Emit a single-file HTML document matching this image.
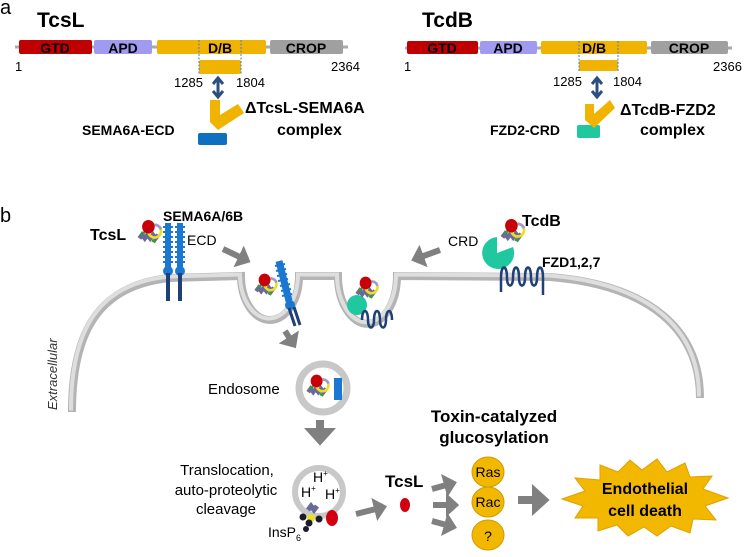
<!DOCTYPE html>
<html><head><meta charset="utf-8"><style>
html,body{margin:0;padding:0;background:#fff}
svg{display:block;font-family:"Liberation Sans",Arial,sans-serif}
.b{font-weight:bold}
</style></head><body>
<svg width="746" height="557" viewBox="0 0 746 557" xmlns="http://www.w3.org/2000/svg">
<defs>
<symbol id="tox" viewBox="-20 -20 40 40" width="40" height="40" overflow="visible">
  <path d="M-14,6 l3,-4 l3,4 l3,-4 l3,4 l3,-4 l3,4 l3,-4" stroke="#6a6a9a" stroke-width="5" fill="none"/>
  <path d="M-12,2 l4,-3 M0,8 l4,2" stroke="#3a9a3a" stroke-width="3"/>
  <circle cx="3" cy="-2" r="7" fill="none" stroke="#e8e020" stroke-width="3"/>
  <path d="M3,-9 a7,7 0 0 1 7,5" stroke="#9a9ad8" stroke-width="3" fill="none"/>
  <ellipse cx="-4" cy="-7" rx="7" ry="7.5" fill="#c8000a"/>
</symbol>
<marker id="ah" markerWidth="4" markerHeight="4" refX="1" refY="2" orient="auto" markerUnits="strokeWidth"><path d="M0,0 L2.2,2 L0,4z" fill="#808080"/></marker>
</defs>

<!-- panel a -->
<text x="0" y="14" font-size="20">a</text>
<text x="37" y="27" font-size="21" class="b">TcsL</text>
<line x1="15" y1="47" x2="348" y2="47" stroke="#aaa" stroke-width="3"/>
<rect x="19" y="40" width="73" height="14" rx="2" fill="#c00000"/>
<rect x="94" y="40" width="58" height="14" rx="2" fill="#a09af0"/>
<rect x="157" y="40" width="109" height="14" rx="2" fill="#f0b400"/>
<rect x="270" y="40" width="73" height="14" rx="2" fill="#a0a0a0"/>
<g font-size="14" class="b" text-anchor="middle"><text x="55" y="53">GTD</text><text x="123" y="53">APD</text><text x="220" y="53">D/B</text><text x="306" y="53">CROP</text></g>
<rect x="199" y="60" width="42" height="14" rx="2" fill="#f0b400"/>
<line x1="199" y1="40" x2="199" y2="74" stroke="#4a7ad0" stroke-dasharray="2,1.5"/>
<line x1="241" y1="40" x2="241" y2="74" stroke="#4a7ad0" stroke-dasharray="2,1.5"/>
<g font-size="13"><text x="15" y="71">1</text><text x="331" y="71">2364</text><text x="174" y="87">1285</text><text x="236" y="87">1804</text></g>
<path d="M218,80 L218,95 M213,84 L218,78 L223,84 M213,91 L218,97 L223,91" stroke="#2d4f80" stroke-width="3" fill="none"/>
<rect x="198" y="133" width="29" height="12" rx="2" fill="#1070c0"/>
<path d="M210,100 L220,100 L220,115 L238,104 L244,113 L218,130 L210,122 Z" fill="#f0b400"/>
<text x="245" y="113" font-size="16" class="b">ΔTcsL-SEMA6A</text>
<text x="277" y="135" font-size="16" class="b">complex</text>
<text x="82" y="135" font-size="14" class="b">SEMA6A-ECD</text>

<text x="422" y="27" font-size="21" class="b">TcdB</text>
<line x1="405" y1="48" x2="732" y2="48" stroke="#aaa" stroke-width="3"/>
<rect x="407" y="41" width="71" height="13" rx="2" fill="#c00000"/>
<rect x="480" y="41" width="57" height="13" rx="2" fill="#a09af0"/>
<rect x="541" y="41" width="106" height="13" rx="2" fill="#f0b400"/>
<rect x="651" y="41" width="77" height="13" rx="2" fill="#a0a0a0"/>
<g font-size="14" class="b" text-anchor="middle"><text x="442" y="53">GTD</text><text x="508" y="53">APD</text><text x="594" y="53">D/B</text><text x="689" y="53">CROP</text></g>
<rect x="579" y="60" width="39" height="11" rx="2" fill="#f0b400"/>
<line x1="579" y1="41" x2="579" y2="71" stroke="#4a7ad0" stroke-dasharray="2,1.5"/>
<line x1="618" y1="41" x2="618" y2="71" stroke="#4a7ad0" stroke-dasharray="2,1.5"/>
<g font-size="13"><text x="404" y="71">1</text><text x="713" y="71">2366</text><text x="553" y="86">1285</text><text x="613" y="86">1804</text></g>
<path d="M597,80 L597,95 M592,84 L597,78 L602,84 M592,91 L597,97 L602,91" stroke="#2d4f80" stroke-width="3" fill="none"/>
<rect x="577" y="125" width="23" height="13" rx="2" fill="#20c8a0"/>
<path d="M585,104 L594,104 L594,114 L610,100 L615,108 L594,128 L585,120 Z" fill="#f0b400"/>
<text x="620" y="115" font-size="16" class="b">ΔTcdB-FZD2</text>
<text x="640" y="135" font-size="16" class="b">complex</text>
<text x="490" y="135" font-size="14" class="b">FZD2-CRD</text>

<!-- panel b -->
<text x="0" y="222" font-size="20">b</text>
<path d="M72,412 C72,330 100,285 170,278 L241,276 A29,44 0 0 0 299,276 L338,276 A29,47 0 0 0 397,276 L550,277 C650,285 700,330 700,398" stroke="#b4b4b4" stroke-width="8" fill="none"/>
<path d="M72,412 C72,330 100,285 170,278 L241,276 A29,44 0 0 0 299,276 L338,276 A29,47 0 0 0 397,276 L550,277 C650,285 700,330 700,398" stroke="#dedede" stroke-width="4" fill="none" transform="translate(-1,-1.5)"/>
<text transform="translate(57,410) rotate(-90)" font-size="13" font-style="italic" fill="#333">Extracellular</text>

<!-- SEMA receptors -->
<g>
<rect x="165" y="223" width="6" height="45" fill="#1a78d0"/><rect x="177" y="223" width="6" height="45" fill="#1a78d0"/>
<path d="M163,227 h10 M163,232 h10 M163,237 h10 M163,242 h10 M163,247 h10 M163,252 h10 M163,257 h10 M163,262 h10 M175,227 h10 M175,232 h10 M175,237 h10 M175,242 h10 M175,247 h10 M175,252 h10 M175,257 h10 M175,262 h10" stroke="#1a78d0" stroke-width="2"/>
<circle cx="168" cy="271" r="5" fill="#1a78d0"/><circle cx="180" cy="271" r="5" fill="#1a78d0"/>
<rect x="166" y="273" width="4" height="28" fill="#1e3f78"/><rect x="178" y="273" width="4" height="28" fill="#1e3f78"/>
</g>
<use href="#tox" x="134" y="215" width="36" height="36"/>
<text x="90" y="240" font-size="16" class="b">TcsL</text>
<text x="163" y="221" font-size="14" class="b">SEMA6A/6B</text>
<text x="187" y="245" font-size="14">ECD</text>
<line x1="223" y1="249" x2="244" y2="259" stroke="#808080" stroke-width="6" marker-end="url(#ah)"/>

<!-- pit1 -->
<line x1="279" y1="261" x2="289" y2="301" stroke="#1a78d0" stroke-width="7"/>
<path d="M275,266 l10,-2 M276,271 l10,-2 M277,276 l10,-2 M278,281 l10,-2 M280,286 l10,-2 M281,291 l10,-2 M282,296 l10,-2" stroke="#1a78d0" stroke-width="2"/>
<circle cx="290" cy="305" r="5" fill="#1a78d0"/>
<path d="M289,308 L295,326 M294,307 L300,325" stroke="#1e3f78" stroke-width="3"/>
<use href="#tox" x="251" y="269" width="34" height="34"/>
<!-- pit2 -->
<circle cx="357" cy="305" r="10" fill="#20c8a0"/>
<use href="#tox" x="352" y="272" width="34" height="34"/>
<path d="M362,320 c0,-12 6,-12 6,0 c0,10 6,10 6,0 c0,-12 6,-12 6,0 c0,10 6,10 6,0 c0,-12 6,-12 6,0" stroke="#1e3f78" stroke-width="2.5" fill="none"/>
<line x1="440" y1="250" x2="418" y2="258" stroke="#808080" stroke-width="6" marker-end="url(#ah)"/>
<text x="448" y="246" font-size="14">CRD</text>

<!-- TcdB on membrane -->
<path d="M497,253 m0,-16 a16,16 0 1 0 16,10 L497,253 Z" fill="#20c8a0"/>
<use href="#tox" x="497" y="214" width="36" height="36"/>
<text x="522" y="226" font-size="16" class="b">TcdB</text>
<text x="542" y="267" font-size="14" class="b">FZD1,2,7</text>
<path d="M501,292 L501,278 c0,-14 6,-14 6,0 c0,10 6,10 6,0 c0,-14 6,-14 6,0 c0,10 6,10 6,0 c0,-14 6,-14 6,0 c0,10 6,10 6,0 c0,-14 6,-14 6,0 L543,295" stroke="#1e3f78" stroke-width="2.5" fill="none"/>

<line x1="285" y1="331" x2="292" y2="342" stroke="#808080" stroke-width="6" marker-end="url(#ah)"/>
<!-- endosome -->
<circle cx="323" cy="388" r="24" fill="#fff" stroke="#c8c8c8" stroke-width="7"/>
<use href="#tox" x="303" y="370" width="34" height="34"/>
<rect x="334" y="378" width="8" height="22" fill="#1a78d0"/>
<text x="208" y="394" font-size="15">Endosome</text>

<line x1="320" y1="420" x2="320" y2="436" stroke="#808080" stroke-width="8" marker-end="url(#ah)"/>
<!-- translocation vesicle -->
<circle cx="319" cy="492" r="24" fill="#fff" stroke="#c8c8c8" stroke-width="6"/>
<g font-size="14"><text x="313" y="482">H<tspan font-size="8" dy="-6">+</tspan></text><text x="301" y="497">H<tspan font-size="8" dy="-6">+</tspan></text><text x="325" y="499">H<tspan font-size="8" dy="-6">+</tspan></text></g>
<path d="M308,510 l3,-4 l3,4 l3,-4" stroke="#6a6a9a" stroke-width="5" fill="none"/>
<circle cx="311" cy="518" r="4" fill="#e8e020"/>
<g fill="#1a1a2a"><circle cx="303" cy="517" r="3.5"/><circle cx="309" cy="523" r="3.5"/><circle cx="319" cy="519" r="3.5"/><circle cx="306" cy="529" r="3"/></g>
<ellipse cx="332" cy="518" rx="6" ry="8" fill="#d00010"/>
<g font-size="15" text-anchor="middle"><text x="227" y="475">Translocation,</text><text x="226" y="495">auto-proteolytic</text><text x="226" y="514">cleavage</text></g>
<text x="268" y="537" font-size="14">InsP<tspan font-size="9" dy="4">6</tspan></text>
<line x1="356" y1="514" x2="380" y2="508" stroke="#808080" stroke-width="6" marker-end="url(#ah)"/>
<text x="385" y="487" font-size="17" class="b">TcsL</text>
<ellipse cx="405" cy="505" rx="5" ry="7" fill="#d00010"/>
<g stroke="#808080" stroke-width="6"><line x1="432" y1="489" x2="450" y2="484" marker-end="url(#ah)"/><line x1="433" y1="505" x2="452" y2="505" marker-end="url(#ah)"/><line x1="432" y1="521" x2="450" y2="526" marker-end="url(#ah)"/></g>
<text x="494" y="422" font-size="17" class="b" text-anchor="middle">Toxin-catalyzed</text>
<text x="494" y="443" font-size="17" class="b" text-anchor="middle">glucosylation</text>
<g fill="#f2b800" stroke="#d09800"><ellipse cx="488" cy="472" rx="16" ry="15"/><ellipse cx="488" cy="502" rx="16" ry="15"/><ellipse cx="488" cy="535" rx="16" ry="15"/></g>
<g font-size="14" text-anchor="middle"><text x="488" y="477">Ras</text><text x="488" y="507">Rac</text><text x="488" y="541">?</text></g>
<line x1="518" y1="500" x2="540" y2="500" stroke="#808080" stroke-width="8" marker-end="url(#ah)"/>
<path d="M562,499 L585,491 L575,478 L600,480 L600,465 L618,472 L630,460 L642,470 L657,459 L667,472 L685,463 L690,477 L712,476 L703,489 L728,498 L705,506 L716,520 L693,519 L690,533 L671,526 L657,536 L644,527 L628,536 L617,525 L598,531 L598,518 L575,518 L583,506 Z" fill="#f2b800" stroke="#e0a000"/>
<text x="645" y="494" font-size="16" class="b" text-anchor="middle">Endothelial</text>
<text x="645" y="516" font-size="16" class="b" text-anchor="middle">cell death</text>
</svg>
</body></html>
